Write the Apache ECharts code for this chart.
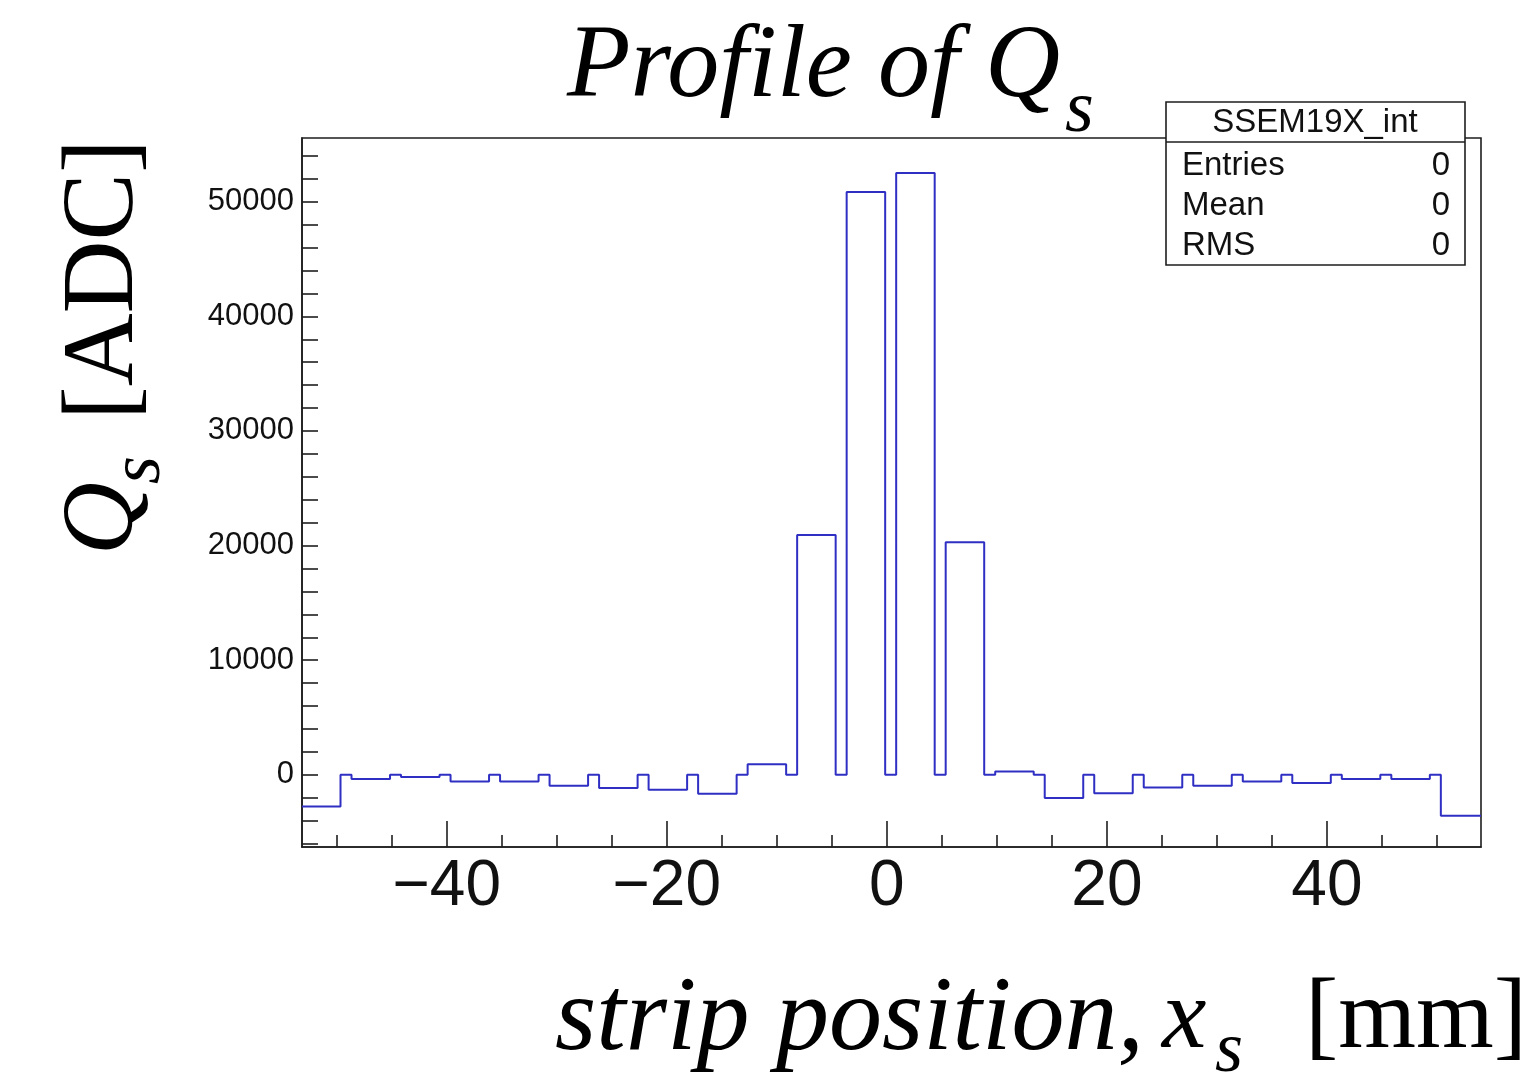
<!DOCTYPE html>
<html>
<head>
<meta charset="utf-8">
<script src="https://cdn.jsdelivr.net/npm/echarts@6/dist/echarts.min.js"></script>
<style>
  html, body { margin: 0; padding: 0; background: #fff; }
  #chart { width: 1536px; height: 1081px; }
</style>
</head>
<body>
<div id="chart"></div>
<script>
// Strip bin edges [mm]; strips are 3.5 mm wide, the 1 mm bins between them are empty
const binEdges = [
  -53.15, -49.65, -48.65, -45.15, -44.15, -40.65, -39.65, -36.15,
  -35.15, -31.65, -30.65, -27.15, -26.15, -22.65, -21.65, -18.15,
  -17.15, -13.65, -12.65, -9.15, -8.15, -4.65, -3.65, -0.15,
  0.85, 4.35, 5.35, 8.85, 9.85, 13.35, 14.35, 17.85,
  18.85, 22.35, 23.35, 26.85, 27.85, 31.35, 32.35, 35.85,
  36.85, 40.35, 41.35, 44.85, 45.85, 49.35, 50.35, 54.0
];
// Integrated strip charge Q_s [ADC] per bin
const binContent = [
  -2760, 0, -375, 0, -200, 0, -585, 0, -585, 0, -960, 0,
  -1160, 0, -1310, 0, -1655, 0, 930, 0, 20920, 0, 50850, 0,
  52510, 0, 20290, 0, 290, 0, -2030, 0, -1600, 0, -1105, 0,
  -960, 0, -585, 0, -725, 0, -375, 0, -375, 0, -3575
];

const xRange = [-53.15, 54.0];
const yRange = [-6300, 55560];
const xMajorTicks = [-40, -20, 0, 20, 40];
const xMinorTicks = [-50, -45, -35, -30, -25, -15, -10, -5, 5, 10, 15, 25, 30, 35, 45, 50];
const yLabelTicks = [0, 10000, 20000, 30000, 40000, 50000];
const yTicks = [-6000, -4000, -2000, 0, 2000, 4000, 6000, 8000, 10000, 12000, 14000, 16000,
  18000, 20000, 22000, 24000, 26000, 28000, 30000, 32000, 34000, 36000, 38000, 40000,
  42000, 44000, 46000, 48000, 50000, 52000, 54000];

const statsTitle = 'SSEM19X_int';
const statsNames = ['Entries', 'Mean', 'RMS'];
const statsValues = ['0', '0', '0'];

// histogram outline: a flat top over every bin, joined by vertical steps
const outline = [];
binContent.forEach((v, i) => {
  outline.push([binEdges[i], v]);
  outline.push([binEdges[i + 1], v]);
});

const AXIS = '#1e1e1e';
const SANS = '"Liberation Sans", Arial, sans-serif';
const SERIF = '"Liberation Serif", "Times New Roman", serif';

const chart = echarts.init(document.getElementById('chart'), null, { renderer: 'canvas' });

const statsBox = {
  type: 'group',
  z: 100,
  children: [
    { type: 'rect', shape: { x: 1166, y: 102, width: 299, height: 163 },
      style: { fill: '#fff', stroke: AXIS, lineWidth: 1.6 } },
    { type: 'line', shape: { x1: 1166, y1: 142, x2: 1465, y2: 142 },
      style: { stroke: AXIS, lineWidth: 1.6 } },
    { type: 'text', x: 1315, y: 123,
      style: { text: statsTitle, fontSize: 33, fontFamily: SANS, fill: '#111',
               align: 'center', verticalAlign: 'middle' } }
  ]
};
statsNames.forEach((name, i) => {
  statsBox.children.push({ type: 'text', x: 1182, y: 166 + i * 40,
    style: { text: name, fontSize: 33, fontFamily: SANS, fill: '#111', align: 'left', verticalAlign: 'middle' } });
  statsBox.children.push({ type: 'text', x: 1450, y: 166 + i * 40,
    style: { text: statsValues[i], fontSize: 33, fontFamily: SANS, fill: '#111', align: 'right', verticalAlign: 'middle' } });
});

const italic = (text, x, y, size) => ({
  type: 'text', x, y,
  style: { text, fontSize: size, fontStyle: 'italic', fontFamily: SERIF, fill: '#000',
           align: 'left', verticalAlign: 'middle' }
});
const roman = (text, x, y, size) => ({
  type: 'text', x, y,
  style: { text, fontSize: size, fontFamily: SERIF, fill: '#000',
           align: 'left', verticalAlign: 'middle' }
});

const option = {
  animation: false,
  backgroundColor: '#fff',
  grid: {
    left: 302, right: 55, top: 138, bottom: 234,
    show: true, borderColor: AXIS, borderWidth: 1.6, backgroundColor: 'transparent'
  },
  xAxis: [
    {
      type: 'value', min: xRange[0], max: xRange[1], position: 'bottom',
      splitLine: { show: false },
      axisLine: { show: true, onZero: false, lineStyle: { color: AXIS, width: 1.6 } },
      axisTick: { show: true, inside: true, length: 26, customValues: xMajorTicks,
                  lineStyle: { color: AXIS, width: 1.6 } },
      axisLabel: { customValues: xMajorTicks, fontSize: 64, fontFamily: SANS, color: '#111', margin: 8,
                   formatter: v => String(v).replace('-', '\u2212') }
    },
    {
      type: 'value', min: xRange[0], max: xRange[1], position: 'bottom',
      splitLine: { show: false },
      axisLine: { show: false, onZero: false },
      axisTick: { show: true, inside: true, length: 12, customValues: xMinorTicks,
                  lineStyle: { color: AXIS, width: 1.6 } },
      axisLabel: { show: false }
    }
  ],
  yAxis: {
    type: 'value', min: yRange[0], max: yRange[1],
    splitLine: { show: false },
    axisLine: { show: true, onZero: false, lineStyle: { color: AXIS, width: 1.6 } },
    axisTick: { show: true, inside: true, length: 16, customValues: yTicks,
                lineStyle: { color: AXIS, width: 1.6 } },
    axisLabel: { customValues: yLabelTicks, fontSize: 31, fontFamily: SANS, color: '#111', margin: 8,
                 formatter: v => String(v) }
  },
  series: [{
    type: 'line',
    data: outline,
    xAxisIndex: 0,
    yAxisIndex: 0,
    showSymbol: false,
    symbol: 'none',
    clip: true,
    lineStyle: { color: '#2f2fc4', width: 2 },
    emphasis: { disabled: true }
  }],
  graphic: [
    // title
    italic('Profile of Q', 567, 69, 104),
    italic('s', 1065, 112, 74),
    // x axis title
    italic('strip position,', 555, 1021, 106),
    italic('x', 1162, 1021, 100),
    italic('s', 1215, 1052, 72),
    roman('[mm]', 1305, 1021, 100),
    // y axis title, reads bottom to top
    {
      type: 'group', x: 140, y: 555, rotation: Math.PI / 2,
      children: [
        italic('Q', 0, -35, 101),
        italic('s', 71, 0, 72),
        roman('[ADC]', 135, -35, 101)
      ]
    },
    statsBox
  ]
};

chart.setOption(option);
</script>
</body>
</html>
